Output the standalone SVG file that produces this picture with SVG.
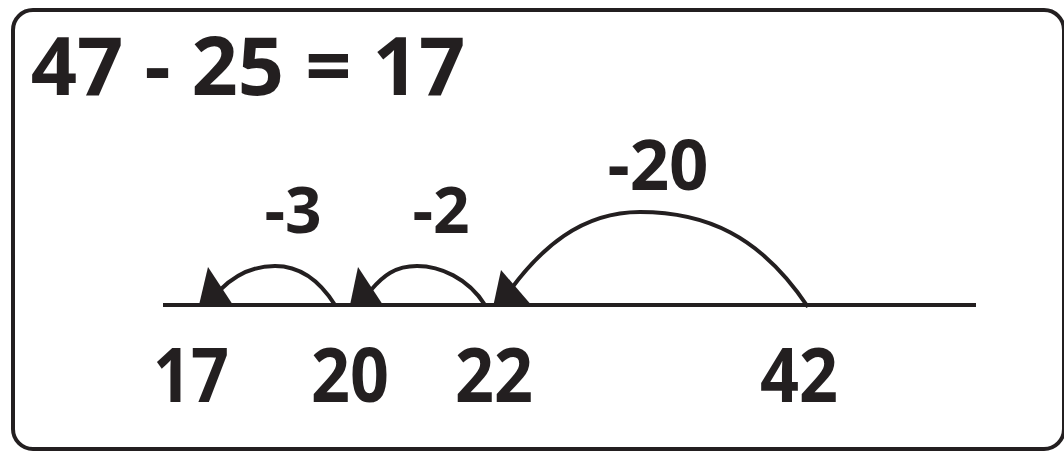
<svg xmlns="http://www.w3.org/2000/svg" width="1064" height="452" viewBox="0 0 1064 452">
<style>
.t{font-family:"Open Sans","Liberation Sans",sans-serif;font-weight:bold;fill:#231f20;text-anchor:middle}
.arc{fill:none;stroke:#231f20;stroke-width:4}
.head{fill:#231f20}
</style>
<rect x="13" y="10" width="1051" height="439" rx="20" fill="#fff" stroke="#231f20" stroke-width="4"/>
<g id="title"><text class="t" x="248" y="95" font-size="81">47 - 25 = 17</text></g>
<g id="line"><line x1="163" y1="305" x2="976" y2="305" stroke="#231f20" stroke-width="4"/></g>
<g id="n17"><text class="t" x="191" y="402" font-size="75" textLength="76" lengthAdjust="spacingAndGlyphs">17</text></g>
<g id="n20"><text class="t" x="350" y="402" font-size="75" textLength="78" lengthAdjust="spacingAndGlyphs">20</text></g>
<g id="n22"><text class="t" x="494" y="402" font-size="75" textLength="78" lengthAdjust="spacingAndGlyphs">22</text></g>
<g id="n42"><text class="t" x="799" y="402" font-size="75" textLength="78" lengthAdjust="spacingAndGlyphs">42</text></g>
<g id="l3"><text class="t" x="293" y="233" font-size="64">-3</text></g>
<g id="l2"><text class="t" x="441" y="233" font-size="64">-2</text></g>
<g id="l20"><text class="t" x="658" y="190" font-size="69">-20</text></g>
<g id="connectors">
<path class="arc" d="M335,305 C318,278 298,266 275,266 C252,266 234,276 220,290"/>
<polygon class="head" points="208,267 199,305 233,305"/>
<path class="arc" d="M485,305 C468,278 440,266 417,266 C395,266 383,276 371,290"/>
<polygon class="head" points="358,267 350,305 383,305"/>
<path class="arc" d="M808,307 C760,235 705,212 640,212 C580,212 540,250 511,289"/>
<polygon class="head" points="501,270 493,307 533,307"/>
</g>
</svg>
